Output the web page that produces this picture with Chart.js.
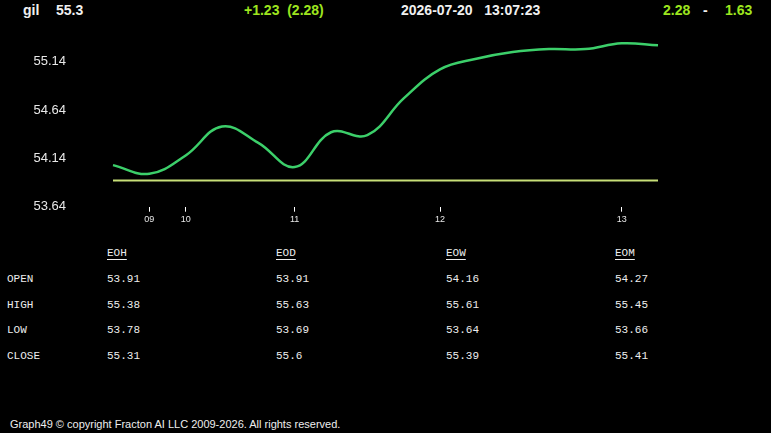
<!DOCTYPE html>
<html>
<head>
<meta charset="utf-8">
<script src="https://cdn.jsdelivr.net/npm/chart.js@4"></script>
<style>
  html, body { margin: 0; padding: 0; background: #000; }
  body { width: 771px; height: 433px; position: relative; overflow: hidden; color: #f0f0f0; }
  .hdr { position: absolute; top: 2px; font: bold 14px Arial, "Liberation Sans", sans-serif; white-space: pre; }
  .lime { color: #9de51f; }
  #chartBox { position: absolute; left: 0; top: 0; width: 771px; height: 240px; }
  .cell { position: absolute; font: 11px "Liberation Mono", "DejaVu Sans Mono", monospace; color: #eee;
          line-height: 14px; white-space: pre; }
  .cell.head { text-decoration: underline; text-underline-offset: 3px; }
  .foot { position: absolute; left: 10px; top: 418px; font: 11px Arial, "Liberation Sans", sans-serif; color: #eee; }
</style>
</head>
<body>
<div class="hdr" style="left:23px">gil</div>
<div class="hdr" style="left:56px">55.3</div>
<div class="hdr lime" style="left:244px">+1.23  (2.28)</div>
<div class="hdr" style="left:401px">2026-07-20   13:07:23</div>
<div class="hdr lime" style="left:663px">2.28</div>
<div class="hdr" style="left:703px">-</div>
<div class="hdr lime" style="left:725px">1.63</div>

<div id="chartBox"><canvas id="chart1"></canvas></div>

<div id="stats"></div>

<div class="foot">Graph49 © copyright Fracton AI LLC 2009-2026. All rights reserved.</div>

<script>
// x categories (hour labels only at some points)
const hours = ['', '09', '10', '', '', '11', '', '', '', '12', '', '', '', '', '13', ''];
const prices = [54.07, 53.98, 54.17, 54.47, 54.30, 54.05, 54.41, 54.38, 54.76, 55.06, 55.17, 55.24, 55.27, 55.27, 55.33, 55.31];
const openLevel = 53.91;
const yTicks = [53.64, 54.14, 54.64, 55.14];

// summary table
const periods = ['EOH', 'EOD', 'EOW', 'EOM'];
const rowNames = ['OPEN', 'HIGH', 'LOW', 'CLOSE'];
const opens = ['53.91', '53.91', '54.16', '54.27'];
const highs = ['55.38', '55.63', '55.61', '55.45'];
const lows = ['53.78', '53.69', '53.64', '53.66'];
const closes = ['55.31', '55.6', '55.39', '55.41'];

// table layout
const colX = [107, 276, 446, 615];
const rowY = [272, 298, 323, 349];
const stats = document.getElementById('stats');
let html = '';
periods.forEach((p, i) => {
  html += '<div class="cell head" style="left:' + colX[i] + 'px;top:246px">' + p + '</div>';
});
[opens, highs, lows, closes].forEach((vals, r) => {
  html += '<div class="cell" style="left:7px;top:' + rowY[r] + 'px">' + rowNames[r] + '</div>';
  vals.forEach((v, i) => {
    html += '<div class="cell" style="left:' + colX[i] + 'px;top:' + rowY[r] + 'px">' + v + '</div>';
  });
});
stats.innerHTML = html;

const ctx = document.getElementById('chart1').getContext('2d');
new Chart(ctx, {
  type: 'line',
  data: {
    labels: hours,
    datasets: [{
      data: prices,
      borderColor: '#3ccf6a',
      borderWidth: 2.5,
      pointRadius: 0,
      tension: 0.4,
      fill: false
    }, {
      data: hours.map(() => openLevel),
      borderColor: '#c8df78',
      borderWidth: 2,
      pointRadius: 0,
      fill: false
    }]
  },
  options: {
    responsive: true,
    maintainAspectRatio: false,
    animation: false,
    layout: { padding: { top: 31.7, right: 113, bottom: 13.3, left: 0 } },
    plugins: { legend: { display: false }, tooltip: { enabled: false } },
    scales: {
      x: {
        offset: false,
        grid: { display: true, drawOnChartArea: false, drawTicks: true, tickLength: 5, color: '#ffffff' },
        border: { display: false },
        ticks: {
          color: '#e8e8e8',
          font: { family: 'Arial', size: 9 },
          padding: 2,
          autoSkip: false,
          maxRotation: 0,
          callback: function (v) {
            const l = this.getLabelForValue(v);
            return l === '' ? null : l;
          }
        },
        afterFit: s => { s.height = 20; s.paddingLeft = 0; s.paddingRight = 0; }
      },
      y: {
        min: 53.64,
        max: 55.45,
        grid: { display: false, drawTicks: false },
        border: { display: false },
        ticks: {
          color: '#e8e8e8',
          font: { family: 'Arial', size: 13 },
          padding: 47,
          callback: v => v.toFixed(2)
        },
        afterBuildTicks: s => { s.ticks = yTicks.map(v => ({ value: v })); },
        afterFit: s => { s.width = 113; s.paddingTop = 0; s.paddingBottom = 0; }
      }
    }
  }
});
</script>
</body>
</html>
